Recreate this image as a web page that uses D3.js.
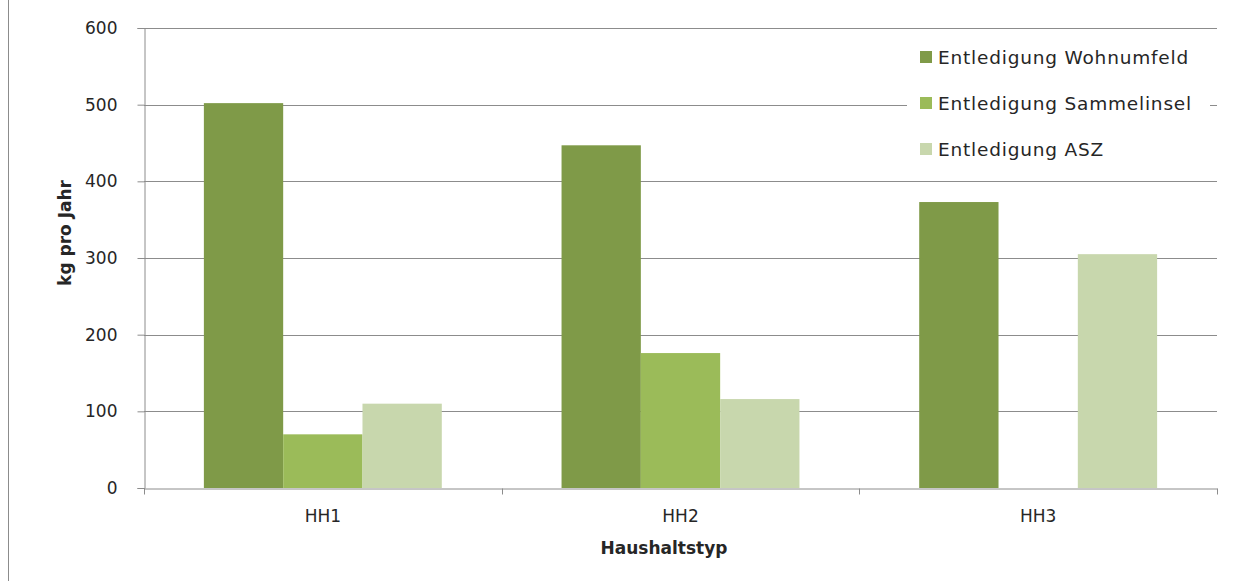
<!DOCTYPE html>
<html>
<head>
<meta charset="utf-8">
<title>Entledigung pro Haushaltstyp</title>
<script src="https://d3js.org/d3.v7.min.js"></script>
<style>
  body { margin: 0; background: #fff; }
  svg text { font-family: "DejaVu Sans", sans-serif; fill: #262626; }
</style>
</head>
<body>
<script>
'use strict'
// data
const categories = ['HH1', 'HH2', 'HH3']
const seriesNames = ['Entledigung Wohnumfeld', 'Entledigung Sammelinsel', 'Entledigung ASZ']
const wohnumfeld = [502, 447, 373]
const sammelinsel = [70, 176, 0]
const asz = [110, 116, 305]
const yTicks = [0, 100, 200, 300, 400, 500, 600]
const colors = ['#7f9a48', '#9bbb59', '#c8d7ad']

const width = 1256
const height = 581
const margin = {top: 28, right: 39, bottom: 93, left: 144}

const svg = d3.select('body').append('svg')
	.attr('width', width)
	.attr('height', height)

// outer frame line on the left
svg.append('line')
	.attr('x1', 8.5).attr('x2', 8.5)
	.attr('y1', 0).attr('y2', height)
	.attr('stroke', '#8c8c8c')

const x0 = d3.scaleBand()
	.domain(categories)
	.range([margin.left, width - margin.right])

const x1 = d3.scaleBand()
	.domain(seriesNames)
	.range([0, x0.bandwidth()])
	.paddingOuter(0.755)

const y = d3.scaleLinear()
	.domain([0, 600])
	.range([height - margin.bottom, margin.top])

// gridlines
svg.append('g')
	.selectAll('line')
	.data(yTicks.slice(1))
	.join('line')
	.attr('x1', margin.left).attr('x2', width - margin.right)
	.attr('y1', d => Math.round(y(d)) + 0.5).attr('y2', d => Math.round(y(d)) + 0.5)
	.attr('stroke', '#8c8c8c')

// bars
const rows = categories.map((c, i) => ({cat: c, values: [wohnumfeld[i], sammelinsel[i], asz[i]]}))
svg.append('g')
	.selectAll('g')
	.data(rows)
	.join('g')
	.attr('transform', d => 'translate(' + x0(d.cat) + ',0)')
	.selectAll('rect')
	.data(d => d.values.map((v, k) => ({name: seriesNames[k], value: v, k: k})))
	.join('rect')
	.attr('x', d => x1(d.name))
	.attr('width', x1.bandwidth())
	.attr('y', d => y(d.value))
	.attr('height', d => y(0) - y(d.value))
	.attr('fill', d => colors[d.k])

// y axis
const yAxis = svg.append('g')
	.attr('transform', 'translate(' + (margin.left + 0.5) + ',0)')
	.call(d3.axisLeft(y).tickValues(yTicks).tickSize(7).tickPadding(20))
yAxis.select('.domain').attr('stroke', '#8c8c8c')
yAxis.selectAll('.tick line').attr('stroke', '#8c8c8c')
yAxis.selectAll('.tick text').attr('font-size', 17).attr('fill', '#262626')
	.attr('font-family', '"DejaVu Sans", sans-serif')

// x axis
const xAxis = svg.append('g')
	.attr('transform', 'translate(0,' + (y(0) + 0.5) + ')')
	.call(d3.axisBottom(x0).tickSize(0).tickPadding(21))
xAxis.select('.domain').attr('stroke', '#8c8c8c')
xAxis.selectAll('.tick text').attr('font-size', 17).attr('fill', '#262626')
	.attr('font-family', '"DejaVu Sans", sans-serif')
// band boundary ticks
const bounds = categories.map(c => x0(c)).concat([x0(categories[2]) + x0.bandwidth()])
xAxis.selectAll('.bound')
	.data(bounds)
	.join('line')
	.attr('class', 'bound')
	.attr('x1', d => Math.round(d) + 0.5).attr('x2', d => Math.round(d) + 0.5)
	.attr('y1', 0).attr('y2', 6)
	.attr('stroke', '#8c8c8c')

// axis titles
svg.append('text')
	.attr('transform', 'translate(71,233) rotate(-90)')
	.attr('text-anchor', 'middle')
	.attr('font-size', 17)
	.attr('font-weight', 'bold')
	.attr('font-family', '"Liberation Sans", sans-serif')
	.attr('fill', '#000')
	.text('kg pro Jahr')

svg.append('text')
	.attr('x', 664)
	.attr('y', 554)
	.attr('text-anchor', 'middle')
	.attr('font-size', 17)
	.attr('font-weight', 'bold')
	.attr('font-family', '"Liberation Sans", sans-serif')
	.attr('fill', '#000')
	.text('Haushaltstyp')

// legend
const legend = svg.append('g')
legend.append('rect')
	.attr('x', 907).attr('y', 36)
	.attr('width', 303).attr('height', 134)
	.attr('fill', '#fff')
const items = legend.selectAll('g.item')
	.data(seriesNames)
	.join('g')
	.attr('class', 'item')
	.attr('transform', (d, i) => 'translate(920,' + (57 + i * 46) + ')')
items.append('rect')
	.attr('x', 0).attr('y', -6)
	.attr('width', 12).attr('height', 12)
	.attr('fill', (d, i) => colors[i])
items.append('text')
	.attr('x', 18)
	.attr('dy', '0.36em')
	.attr('font-size', 18.5)
	.attr('letter-spacing', 0.8)
	.text(d => d)
</script>
</body>
</html>
